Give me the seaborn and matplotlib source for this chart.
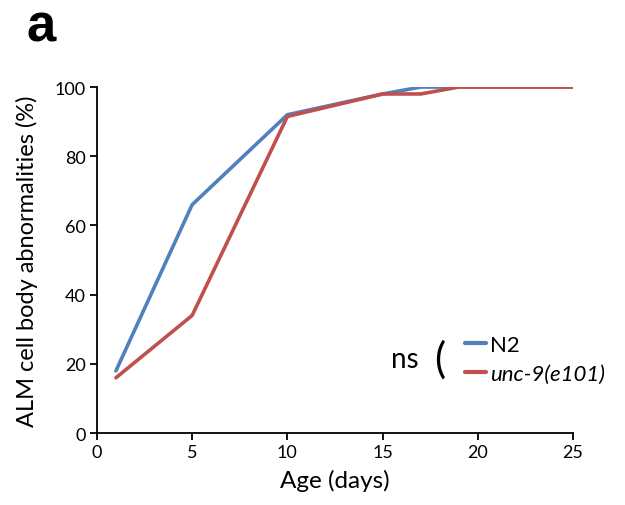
import pandas as pd
import seaborn as sns
import matplotlib.pyplot as plt

# values
n2_age = [1, 5, 10, 15, 17, 19, 21, 25]
n2_pct = [18, 66, 92, 98, 100, 100, 100, 100]
unc9_age = [1, 5, 10, 15, 17, 19, 21, 25]
unc9_pct = [16, 34, 91.5, 98, 98, 100, 100, 100]
strains = ['N2', 'unc-9(e101)']
colors = {'N2': '#4F81BD', 'unc-9(e101)': '#C0504D'}

df = pd.concat([
    pd.DataFrame({'age': n2_age, 'pct': n2_pct, 'strain': strains[0]}),
    pd.DataFrame({'age': unc9_age, 'pct': unc9_pct, 'strain': strains[1]}),
])

sns.set_style('ticks', {'text.color': 'black', 'axes.labelcolor': 'black',
                        'xtick.color': 'black', 'ytick.color': 'black'})
plt.rcParams['font.family'] = ['Lato', 'DejaVu Sans']

fig = plt.figure(figsize=(6.25, 5.06), dpi=100)
ax = fig.add_axes([0.155, 0.142, 0.762, 0.684])

sns.lineplot(data=df, x='age', y='pct', hue='strain', hue_order=strains,
             palette=colors, linewidth=2.6, ax=ax, legend=True)

ax.set_xlim(0, 25)
ax.set_ylim(0, 100)
ax.set_xticks([0, 5, 10, 15, 20, 25])
ax.set_yticks([0, 20, 40, 60, 80, 100])
ax.tick_params(axis='both', labelsize=13, length=5, width=1.3, color='black', pad=3)
for s in ['left', 'bottom']:
    ax.spines[s].set_linewidth(1.3)
    ax.spines[s].set_color('black')
sns.despine(ax=ax)

ax.set_xlabel('Age (days)', fontsize=17.5, labelpad=6)
ax.set_ylabel('ALM cell body abnormalities (%)', fontsize=17, labelpad=12)

leg = ax.legend(loc='center left', bbox_to_anchor=(0.73, 0.214), frameon=False,
                fontsize=16, handlelength=0.95, handletextpad=0.2, labelspacing=0.4)
leg.get_texts()[1].set_fontstyle('italic')
for line in leg.get_lines():
    line.set_linewidth(3)

ax.text(0.647, 0.214, 'ns', transform=ax.transAxes, fontsize=20,
        ha='center', va='center')
ax.text(0.72, 0.214, '(', transform=ax.transAxes, fontsize=30,
        ha='center', va='center')

fig.text(0.042, 0.917, 'a', fontsize=38, fontweight='bold',
         family='Liberation Sans', va='baseline')

fig.savefig('out.png', dpi=100)
